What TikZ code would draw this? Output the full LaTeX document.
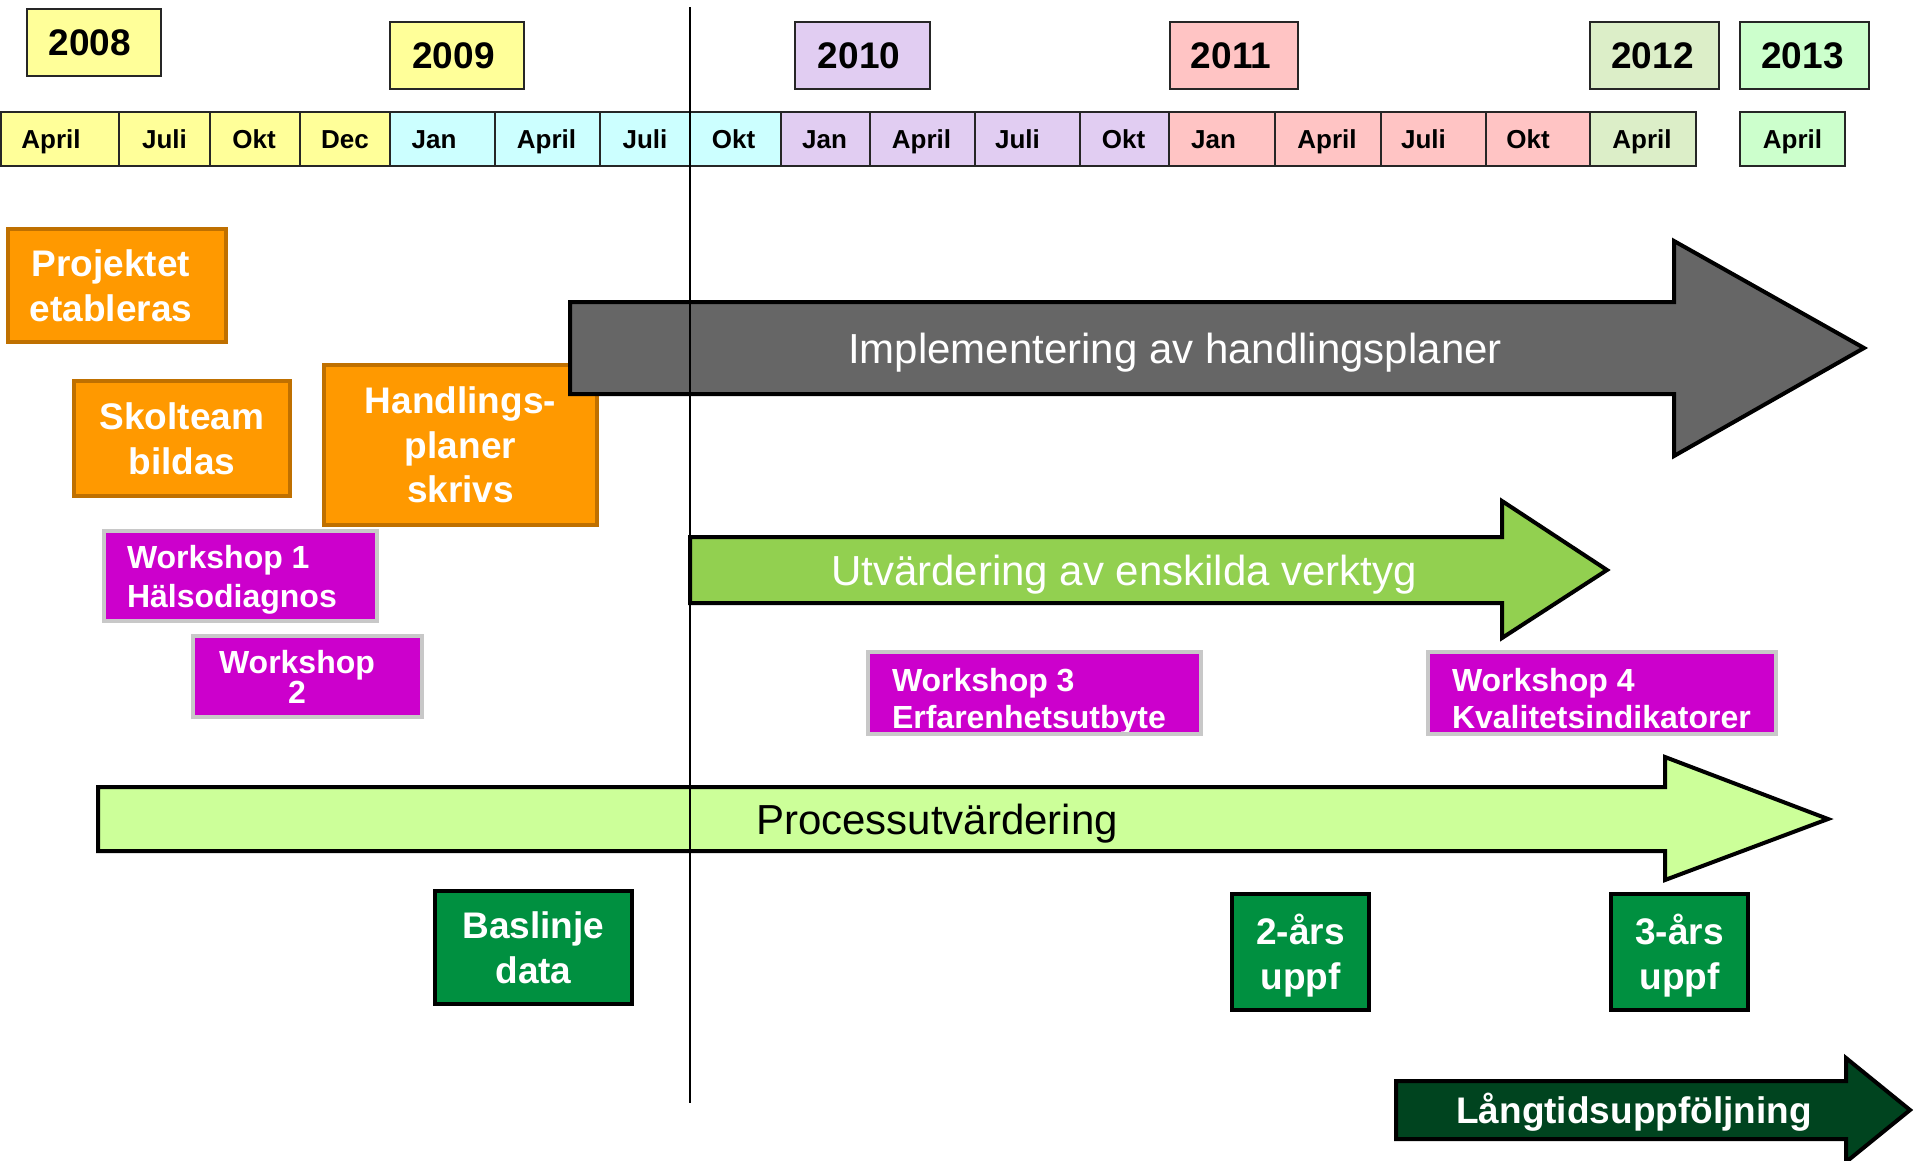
\documentclass[tikz,border=0pt]{standalone}
\usepackage{fontspec}
\setmainfont{Liberation Sans}
\newcommand\fsz[2]{\fontsize{#1pt}{#2pt}\selectfont}
\newcommand\rbox[7]{\node[#6, minimum width={#4-#2}, minimum height={#5-#3}] (#1) at ({(#2+#4)/2},{(#3+#5)/2}) {#7};}
\definecolor{yel}{HTML}{FFFF99}
\definecolor{cya}{HTML}{CCFFFF}
\definecolor{lav}{HTML}{E1CDF2}
\definecolor{pnk}{HTML}{FFC4C4}
\definecolor{lgr}{HTML}{DCEEC8}
\definecolor{mnt}{HTML}{CCFFCC}
\definecolor{orng}{HTML}{FF9900}
\definecolor{orngdk}{HTML}{BF7000}
\definecolor{mag}{HTML}{CC00CC}
\definecolor{wsgray}{HTML}{C8C8C8}
\definecolor{gbox}{HTML}{009040}
\definecolor{garrow}{HTML}{666666}
\definecolor{utv}{HTML}{92D050}
\definecolor{proc}{HTML}{CCFF99}
\definecolor{lang}{HTML}{00441F}
\begin{document}
\begin{tikzpicture}[x=1pt,y=-1pt,
  every node/.style={inner sep=0pt,outer sep=0pt},
  yearbox/.style={draw=black!85, line width=2.5pt, font=\fsz{37}{44}\bfseries, text height=26.5pt, text depth=0pt},
  monthbox/.style={draw=black!85, line width=2.5pt, font=\fsz{26}{31}\bfseries, text height=18.6pt, text depth=0pt},
  orangebox/.style={fill=orng, draw=orngdk, line width=4pt, text=white, font=\fsz{37}{44.5}\bfseries, align=center, text depth=0pt},
  wsbox/.style={fill=mag, draw=wsgray, line width=3.5pt},
  wstext/.style={text=white, font=\fsz{32}{39}\bfseries, align=left, text depth=0pt},
  greenbox/.style={fill=gbox, draw=black, line width=4pt, text=white, font=\fsz{37}{44.5}\bfseries, align=center, text depth=0pt},
  arrowshape/.style={draw=black, line width=4pt, line join=miter},
  arrowtext/.style={font=\fsz{42}{50}, text height=30pt, text depth=0pt}
]
\useasboundingbox (0,0) rectangle (1916,1160);

% years
\rbox{y2008}{27}{9}{161}{76}{yearbox, fill=yel}{2008\kern8pt}
\rbox{y2009}{390}{22}{524}{89}{yearbox, fill=yel}{2009\kern7pt}
\rbox{y2010}{795}{22}{930}{89}{yearbox, fill=lav}{2010\kern7pt}
\rbox{y2011}{1170}{22}{1298}{89}{yearbox, fill=pnk}{2011\kern6pt}
\rbox{y2012}{1590}{22}{1719}{89}{yearbox, fill=lgr}{2012\kern4pt}
\rbox{y2013}{1740}{22}{1869}{89}{yearbox, fill=mnt}{2013\kern4pt}

% months
\foreach \n/\a/\b/\t/\c/\k in {m1/1/119/April/yel/18, m2/119/210/Juli/yel/0, m3/210/300/Okt/yel/2, m4/300/390/Dec/yel/0,
  m5/390/495/Jan/cya/17, m6/495/600/April/cya/2, m7/600/690/Juli/cya/0, m8/690/781/Okt/cya/4,
  m9/781/870/Jan/lav/2, m10/870/975/April/lav/2, m11/975/1080/Juli/lav/20, m12/1080/1169/Okt/lav/2,
  m13/1169/1275/Jan/pnk/17, m14/1275/1381/April/pnk/2, m15/1381/1486/Juli/pnk/20, m16/1486/1590/Okt/pnk/20,
  m17/1590/1696/April/lgr/2, m18/1740/1845/April/mnt/0}
  {\rbox{\n}{\a}{112}{\b}{166}{monthbox, fill=\c}{\t\kern\k pt}}

% orange boxes
\rbox{proj}{8}{229}{226}{342}{orangebox}{Projektet\kern12pt\\etableras\kern12pt}
\rbox{skol}{74}{381}{290}{496}{orangebox}{Skolteam\\bildas}
\rbox{hand}{324}{365}{597}{525}{orangebox}{Handlings-\\planer\\skrivs}

% implementation arrow
\draw[arrowshape, fill=garrow] (570,302) -- (1674,302) -- (1674,241) -- (1864,348) -- (1674,456) -- (1674,394) -- (570,394) -- cycle;
\node[arrowtext, text=white] (impl) at (1175,348) {Implementering av handlingsplaner};

% workshops 1, 2
\rbox{w1}{104}{531}{377}{621}{wsbox}{}
\node[wstext, anchor=west] (w1t) at (127,576.5) {Workshop 1\\Hälsodiagnos};
\rbox{w2}{193}{636}{422}{717}{wsbox}{}
\node[wstext, align=center, font=\fsz{32}{30}\bfseries] (w2t) at (297,677) {Workshop\\2};

% evaluation arrow
\draw[arrowshape, fill=utv] (690,537) -- (1502,537) -- (1502,501) -- (1607,570) -- (1502,638) -- (1502,603) -- (690,603) -- cycle;
\node[arrowtext, text=white] (utvt) at (1124,570) {Utvärdering av enskilda verktyg};

% workshops 3, 4
\rbox{w3}{868}{652}{1201}{734}{fill=mag}{}
\node[wstext, anchor=west, font=\fsz{32}{37}\bfseries] (w3t) at (892,698) {Workshop 3\\Erfarenhetsutbyte};
\draw[wsgray, line width=3.5pt] (w3.north west) rectangle (w3.south east);
\rbox{w4}{1428}{652}{1776}{734}{fill=mag}{}
\node[wstext, anchor=west, font=\fsz{32}{37}\bfseries] (w4t) at (1452,698) {Workshop 4\\Kvalitetsindikatorer};
\draw[wsgray, line width=3.5pt] (w4.north west) rectangle (w4.south east);

% process arrow
\draw[arrowshape, fill=proc] (98,787) -- (1665,787) -- (1665,757) -- (1828,819) -- (1665,880) -- (1665,851) -- (98,851) -- cycle;
\node[arrowtext, text=black] (proct) at (937,819) {Processutvärdering};

% green boxes
\rbox{g1}{435}{891}{632}{1004}{greenbox}{Baslinje\\data}
\rbox{g2}{1232}{894}{1369}{1010}{greenbox}{2-års\\uppf}
\rbox{g3}{1611}{894}{1748}{1010}{greenbox}{3-års\\uppf}

% long-term arrow
\begin{scope}
\clip (0,0) rectangle (1916,1160);
\draw[arrowshape, fill=lang] (1396,1081) -- (1846,1081) -- (1846,1058) -- (1910,1110) -- (1846,1162) -- (1846,1139) -- (1396,1139) -- cycle;
\end{scope}
\node[text=white, font=\fsz{37}{44}\bfseries, text height=26.5pt, text depth=0pt] (langt) at (1634,1110) {Långtidsuppföljning};

% vertical "now" line
\coordinate (vtop) at (690,7);
\coordinate (vbot) at (690,1103);
\draw[line width=1.5pt] (vtop) -- (vbot);
\end{tikzpicture}
\end{document}
